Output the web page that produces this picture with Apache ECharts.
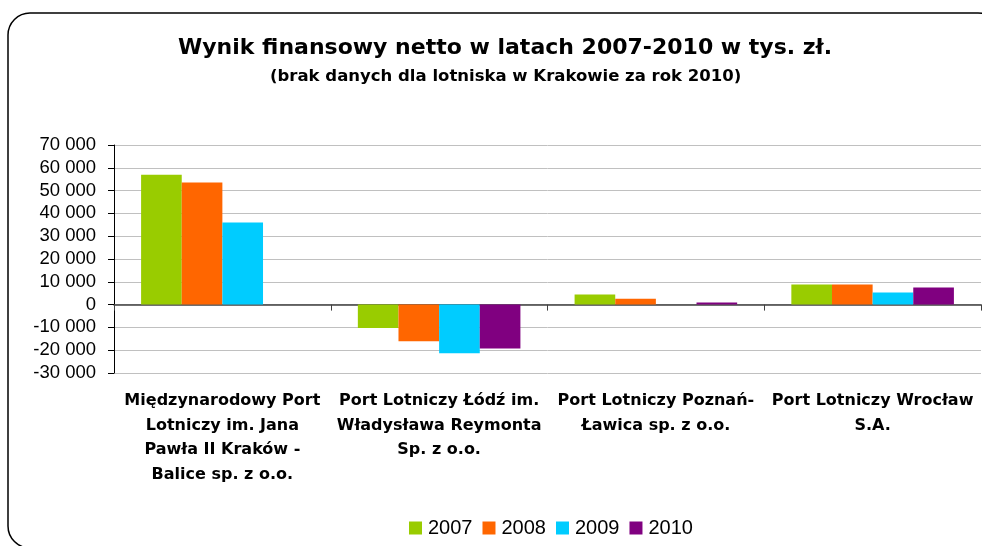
<!DOCTYPE html>
<html>
<head>
<meta charset="utf-8">
<script src="https://cdn.jsdelivr.net/npm/echarts@6/dist/echarts.min.js"></script>
<style>
  html, body { margin: 0; padding: 0; background: #fff; }
  #chart { width: 982px; height: 546px; }
</style>
</head>
<body>
<div id="chart"></div>
<script>
// kategorie (lotniska) i lata
var airports = [
    'Międzynarodowy Port\nLotniczy im. Jana\nPawła II Kraków -\nBalice sp. z o.o.',
    'Port Lotniczy Łódź im.\nWładysława Reymonta\nSp. z o.o.',
    'Port Lotniczy Poznań-\nŁawica sp. z o.o.',
    'Port Lotniczy Wrocław\nS.A.'
];
var years = ['2007', '2008', '2009', '2010'];
var colors = ['#99CC00', '#FF6600', '#00CCFF', '#800080'];

// wynik finansowy netto, tys. zł
var v2007 = [57000, -10300, 4400, 8800];
var v2008 = [53500, -16100, 2600, 8800];
var v2009 = [36000, -21300, 0, 5300];
var v2010 = [null, -19300, 900, 7500];
var values = [v2007, v2008, v2009, v2010];

var chart = echarts.init(document.getElementById('chart'));

function fmt(v) {
    var s = String(Math.abs(v)).replace(/\B(?=(\d{3})+(?!\d))/g, ' ');
    return (v < 0 ? '-' : '') + s;
}

var option = {
    animation: false,
    textStyle: { fontFamily: '"Liberation Sans", Arial, sans-serif' },
    graphic: [{
        type: 'rect',
        shape: { x: 8, y: 13, width: 992, height: 535, r: 22 },
        style: { fill: 'none', stroke: '#000', lineWidth: 1.5 },
        z: -1
    }],
    title: [{
        text: 'Wynik finansowy netto w latach 2007-2010 w tys. zł.',
        left: 173,
        top: 32,
        textStyle: { fontSize: 22, fontWeight: 'bold', color: '#000', fontFamily: 'DejaVu Sans' }
    }, {
        text: '(brak danych dla lotniska w Krakowie za rok 2010)',
        left: 265,
        top: 63,
        textStyle: { fontSize: 16.5, fontWeight: 'bold', color: '#000', fontFamily: 'DejaVu Sans' }
    }],
    legend: {
        bottom: 3,
        left: 404,
        itemWidth: 13,
        itemHeight: 13,
        itemGap: 10,
        icon: 'rect',
        textStyle: { fontSize: 20, color: '#000', fontFamily: '"Liberation Sans", Arial', padding: [0, 0, 0, 1] },
        data: years
    },
    grid: { left: 114, right: 1, top: 145, bottom: 173, containLabel: false },
    xAxis: [{
        type: 'category',
        data: airports,
        axisLine: { onZero: true, lineStyle: { color: '#404040', width: 1.5 } },
        axisTick: { show: true, length: 6, lineStyle: { color: '#404040' } },
        axisLabel: { show: false },
        splitLine: { show: false }
    }, {
        type: 'category',
        data: airports,
        position: 'bottom',
        axisLine: { show: false },
        axisTick: { show: false },
        axisLabel: {
            margin: 16,
            fontSize: 16,
            fontWeight: 'bold',
            fontFamily: 'DejaVu Sans',
            color: '#000',
            lineHeight: 24.5,
            interval: 0
        }
    }],
    yAxis: {
        type: 'value',
        min: -30000,
        max: 70000,
        interval: 10000,
        axisLine: { show: true, lineStyle: { color: '#000' } },
        axisTick: { show: true, length: 6, lineStyle: { color: '#000' } },
        axisLabel: { fontSize: 18.5, color: '#000', margin: 18, fontFamily: '"Liberation Sans", Arial', formatter: fmt },
        splitLine: { lineStyle: { color: '#c0c0c0', width: 1 } }
    },
    series: years.map(function (y, i) {
        return {
            name: y,
            type: 'bar',
            xAxisIndex: 0,
            data: values[i],
            barGap: '0%',
            barCategoryGap: '25%',
            itemStyle: { color: colors[i] }
        };
    })
};

chart.setOption(option);
</script>
</body>
</html>
